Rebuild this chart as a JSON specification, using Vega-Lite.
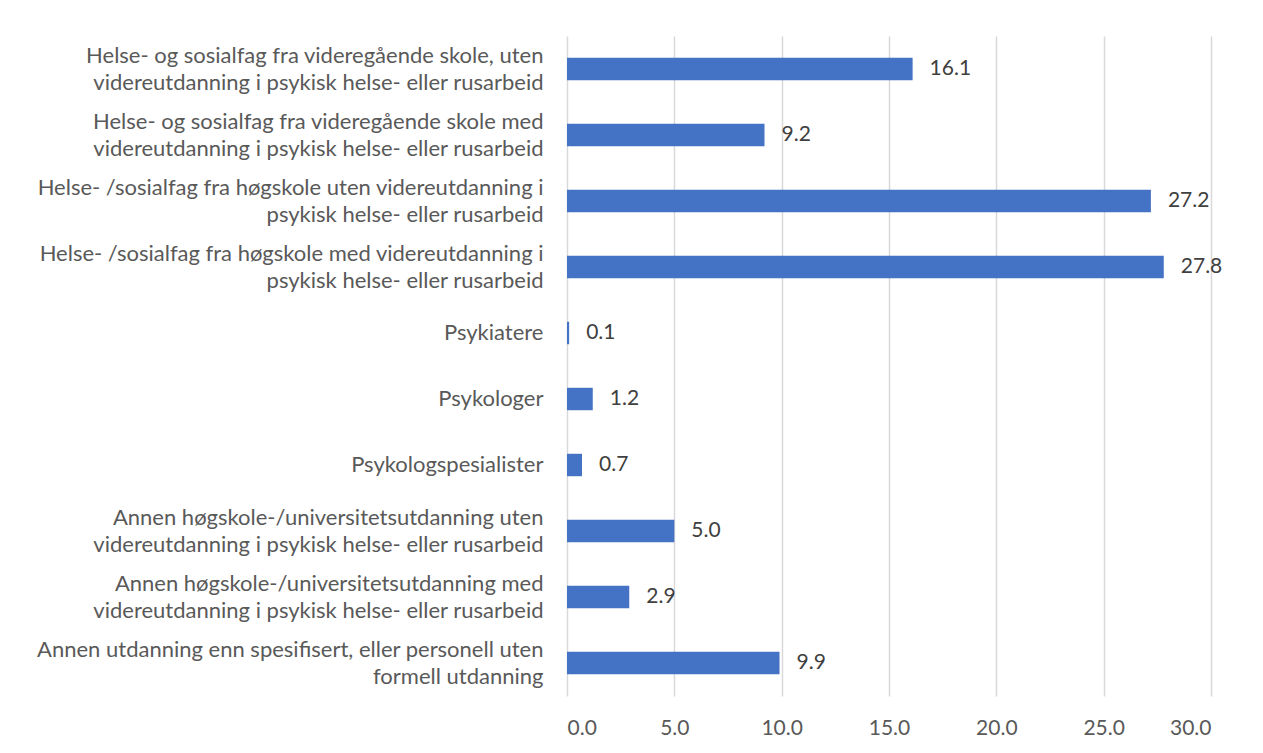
{
  "$schema": "https://vega.github.io/schema/vega-lite/v6.json",
  "autosize": {"type": "none"},
  "width": 644,
  "height": 660,
  "padding": {"left": 567, "top": 36, "right": 52, "bottom": 57},
  "background": "white",
  "config": {
    "view": {"stroke": null},
    "font": "Lato"
  },
  "data": {
    "values": [
      {"kategori": "Helse- og sosialfag fra videregående skole, uten|videreutdanning i psykisk helse- eller rusarbeid", "andel": 16.1},
      {"kategori": "Helse- og sosialfag fra videregående skole med|videreutdanning i psykisk helse- eller rusarbeid", "andel": 9.2},
      {"kategori": "Helse- /sosialfag fra høgskole uten videreutdanning i|psykisk helse- eller rusarbeid", "andel": 27.2},
      {"kategori": "Helse- /sosialfag fra høgskole med videreutdanning i|psykisk helse- eller rusarbeid", "andel": 27.8},
      {"kategori": "Psykiatere", "andel": 0.1},
      {"kategori": "Psykologer", "andel": 1.2},
      {"kategori": "Psykologspesialister", "andel": 0.7},
      {"kategori": "Annen høgskole-/universitetsutdanning uten|videreutdanning i psykisk helse- eller rusarbeid", "andel": 5.0},
      {"kategori": "Annen høgskole-/universitetsutdanning med|videreutdanning i psykisk helse- eller rusarbeid", "andel": 2.9},
      {"kategori": "Annen utdanning enn spesifisert, eller personell uten|formell utdanning", "andel": 9.9}
    ]
  },
  "encoding": {
    "y": {
      "field": "kategori",
      "type": "nominal",
      "sort": null,
      "scale": {"paddingInner": 0.66, "paddingOuter": 0.33},
      "axis": {
        "title": null,
        "domain": false,
        "ticks": false,
        "labelPadding": 24,
        "labelFontSize": 22,
        "labelColor": "#595959",
        "labelLineHeight": 27,
        "labelLimit": 600,
        "labelOffset": {"condition": {"test": "indexof(datum.value, '|') >= 0", "value": -13.5}, "value": 0},
        "labelExpr": "split(datum.value, '|')"
      }
    },
    "x": {
      "field": "andel",
      "type": "quantitative",
      "scale": {"domain": [0, 30], "nice": false},
      "axis": {
        "title": null,
        "values": [0, 5, 10, 15, 20, 25, 30],
        "format": ".1f",
        "domain": false,
        "ticks": false,
        "grid": true,
        "gridColor": "#d9d9d9",
        "gridWidth": 1.5,
        "labelPadding": 21,
        "labelFontSize": 21,
        "labelColor": "#595959"
      }
    }
  },
  "layer": [
    {"mark": {"type": "bar", "color": "#4472c4"}},
    {
      "mark": {"type": "text", "align": "left", "baseline": "middle", "dx": 17, "fontSize": 21, "color": "#404040"},
      "encoding": {"text": {"field": "andel", "type": "quantitative", "format": ".1f"}}
    }
  ]
}
